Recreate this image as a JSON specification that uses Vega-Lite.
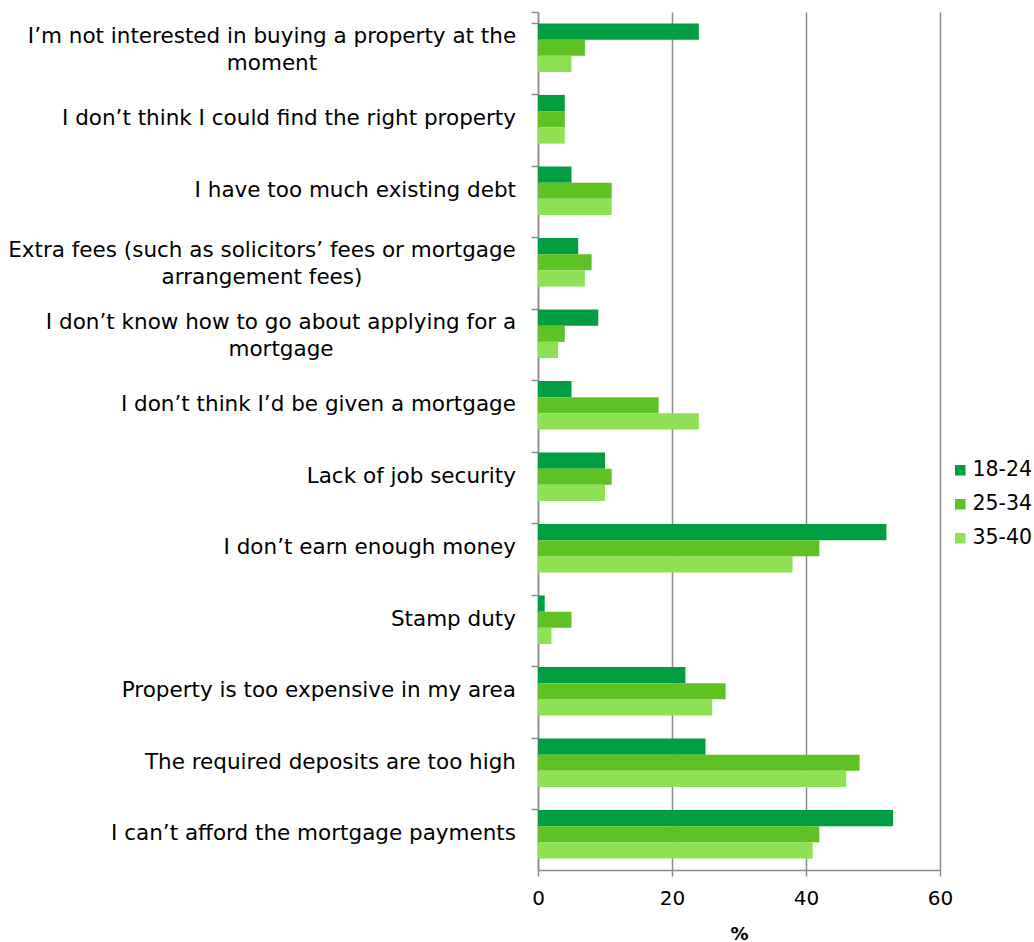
{
  "$schema": "https://vega.github.io/schema/vega-lite/v6.json",
  "autosize": "none",
  "width": 402,
  "height": 858,
  "padding": {"left": 538, "top": 12, "right": 94, "bottom": 72},
  "background": "white",
  "config": {
    "view": {"stroke": null},
    "font": "DejaVu Sans"
  },
  "data": {
    "values": [
      {"reason": "I’m not interested in buying a property at the|moment", "age": "18-24", "pct": 24},
      {"reason": "I’m not interested in buying a property at the|moment", "age": "25-34", "pct": 7},
      {"reason": "I’m not interested in buying a property at the|moment", "age": "35-40", "pct": 5},
      {"reason": "I don’t think I could find the right property", "age": "18-24", "pct": 4},
      {"reason": "I don’t think I could find the right property", "age": "25-34", "pct": 4},
      {"reason": "I don’t think I could find the right property", "age": "35-40", "pct": 4},
      {"reason": "I have too much existing debt", "age": "18-24", "pct": 5},
      {"reason": "I have too much existing debt", "age": "25-34", "pct": 11},
      {"reason": "I have too much existing debt", "age": "35-40", "pct": 11},
      {"reason": "Extra fees (such as solicitors’ fees or mortgage|arrangement fees)", "age": "18-24", "pct": 6},
      {"reason": "Extra fees (such as solicitors’ fees or mortgage|arrangement fees)", "age": "25-34", "pct": 8},
      {"reason": "Extra fees (such as solicitors’ fees or mortgage|arrangement fees)", "age": "35-40", "pct": 7},
      {"reason": "I don’t know how to go about applying for a|mortgage", "age": "18-24", "pct": 9},
      {"reason": "I don’t know how to go about applying for a|mortgage", "age": "25-34", "pct": 4},
      {"reason": "I don’t know how to go about applying for a|mortgage", "age": "35-40", "pct": 3},
      {"reason": "I don’t think I’d be given a mortgage", "age": "18-24", "pct": 5},
      {"reason": "I don’t think I’d be given a mortgage", "age": "25-34", "pct": 18},
      {"reason": "I don’t think I’d be given a mortgage", "age": "35-40", "pct": 24},
      {"reason": "Lack of job security", "age": "18-24", "pct": 10},
      {"reason": "Lack of job security", "age": "25-34", "pct": 11},
      {"reason": "Lack of job security", "age": "35-40", "pct": 10},
      {"reason": "I don’t earn enough money", "age": "18-24", "pct": 52},
      {"reason": "I don’t earn enough money", "age": "25-34", "pct": 42},
      {"reason": "I don’t earn enough money", "age": "35-40", "pct": 38},
      {"reason": "Stamp duty", "age": "18-24", "pct": 1},
      {"reason": "Stamp duty", "age": "25-34", "pct": 5},
      {"reason": "Stamp duty", "age": "35-40", "pct": 2},
      {"reason": "Property is too expensive in my area", "age": "18-24", "pct": 22},
      {"reason": "Property is too expensive in my area", "age": "25-34", "pct": 28},
      {"reason": "Property is too expensive in my area", "age": "35-40", "pct": 26},
      {"reason": "The required deposits are too high", "age": "18-24", "pct": 25},
      {"reason": "The required deposits are too high", "age": "25-34", "pct": 48},
      {"reason": "The required deposits are too high", "age": "35-40", "pct": 46},
      {"reason": "I can’t afford the mortgage payments", "age": "18-24", "pct": 53},
      {"reason": "I can’t afford the mortgage payments", "age": "25-34", "pct": 42},
      {"reason": "I can’t afford the mortgage payments", "age": "35-40", "pct": 41}
    ]
  },
  "encoding": {
    "y": {
      "field": "reason",
      "type": "nominal",
      "sort": null,
      "scale": {
        "domain": [
          "I’m not interested in buying a property at the|moment",
          "I don’t think I could find the right property",
          "I have too much existing debt",
          "Extra fees (such as solicitors’ fees or mortgage|arrangement fees)",
          "I don’t know how to go about applying for a|mortgage",
          "I don’t think I’d be given a mortgage",
          "Lack of job security",
          "I don’t earn enough money",
          "Stamp duty",
          "Property is too expensive in my area",
          "The required deposits are too high",
          "I can’t afford the mortgage payments"
        ],
        "paddingInner": 0.32,
        "paddingOuter": 0.16
      },
      "axis": {
        "title": null,
        "labels": false,
        "bandPosition": 0,
        "tickExtra": true,
        "tickSize": 7,
        "tickColor": "#8c8c8c",
        "tickWidth": 1.5,
        "domainColor": "#8c8c8c",
        "domainWidth": 1.5,
        "grid": false
      }
    }
  },
  "layer": [
    {
      "mark": {"type": "bar"},
      "encoding": {
        "yOffset": {"field": "age", "type": "nominal", "scale": {"paddingInner": 0, "paddingOuter": 0}},
        "x": {
          "field": "pct",
          "type": "quantitative",
          "scale": {"domain": [0, 60], "nice": false},
          "axis": {
            "values": [0, 20, 40, 60],
            "title": "%",
            "titleFontSize": 18,
            "titleFontWeight": "bold",
            "titleColor": "#000000",
            "titlePadding": 17,
            "labelFontSize": 20,
            "labelColor": "#000000",
            "labelPadding": 12,
            "labelFlush": false,
            "tickSize": 6,
            "tickColor": "#8c8c8c",
            "tickWidth": 1.5,
            "domainColor": "#8c8c8c",
            "domainWidth": 1.5,
            "grid": true,
            "gridColor": "#8c8c8c",
            "gridWidth": 1.5
          }
        },
        "color": {
          "field": "age",
          "type": "nominal",
          "scale": {"domain": ["18-24", "25-34", "35-40"], "range": ["#009E41", "#5FC224", "#8DE153"]},
          "legend": {
            "title": null,
            "orient": "none",
            "legendX": 412,
            "legendY": 448,
            "symbolType": "square",
            "symbolSize": 110,
            "symbolStrokeWidth": 0,
            "labelFontSize": 20.5,
            "labelColor": "#000000",
            "labelOffset": 2,
            "rowPadding": 13,
            "padding": 0
          }
        }
      }
    },
    {
      "transform": [{"filter": "datum.age == '18-24' && indexof(datum.reason, '|') < 0"}],
      "mark": {"type": "text", "align": "right", "baseline": "middle", "dx": -22, "fontSize": 21.5, "color": "#000000"},
      "encoding": {
        "x": {"datum": 0, "type": "quantitative"},
        "text": {"field": "reason"}
      }
    },
    {
      "transform": [{"filter": "datum.age == '18-24' && indexof(datum.reason, 'not interested') >= 0"}],
      "mark": {"type": "text", "align": "center", "baseline": "line-bottom", "lineBreak": "|", "lineHeight": 27, "dx": -266, "dy": 2, "fontSize": 21.5, "color": "#000000"},
      "encoding": {
        "x": {"datum": 0, "type": "quantitative"},
        "text": {"field": "reason"}
      }
    },
    {
      "transform": [{"filter": "datum.age == '18-24' && indexof(datum.reason, 'Extra fees') >= 0"}],
      "mark": {"type": "text", "align": "center", "baseline": "line-bottom", "lineBreak": "|", "lineHeight": 27, "dx": -276, "dy": 2, "fontSize": 21.5, "color": "#000000"},
      "encoding": {
        "x": {"datum": 0, "type": "quantitative"},
        "text": {"field": "reason"}
      }
    },
    {
      "transform": [{"filter": "datum.age == '18-24' && indexof(datum.reason, 'applying') >= 0"}],
      "mark": {"type": "text", "align": "center", "baseline": "line-bottom", "lineBreak": "|", "lineHeight": 27, "dx": -257, "dy": 2, "fontSize": 21.5, "color": "#000000"},
      "encoding": {
        "x": {"datum": 0, "type": "quantitative"},
        "text": {"field": "reason"}
      }
    }
  ]
}
